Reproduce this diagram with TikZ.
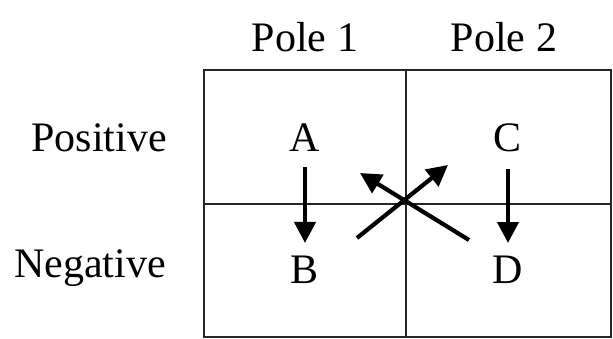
\documentclass[tikz,border=0pt]{standalone}
\usepackage{fontspec}
\setmainfont{Liberation Serif}
\usetikzlibrary{arrows.meta,positioning}
\tikzset{Cell/.style={draw=black!85,line width=1.6pt},
  Lbl/.style={inner sep=0pt,font=\fontsize{42}{48}\selectfont},
  Arr/.style={line width=4.2pt,-{Triangle[length=21pt,width=21pt]}}}

\begin{document}
\begin{tikzpicture}[x=1pt,y=-1pt]
            \useasboundingbox (0,0) rectangle (613,339);
            \draw[Cell] (204,70) rectangle (611,337);
            \draw[Cell] (406,70) -- (406,337);
            \draw[Cell] (204,204) -- (611,204);
            \node[Lbl] (p1) at (305,37) {Pole 1};
            \node[Lbl] (p2) at (504,37) {Pole 2};
            \node[Lbl] (pos) at (99,138) {Positive};
            \node[Lbl] (neg) at (90,268) {Negative};
            \node[Lbl] (A) at (305,138) {A};
            \node[Lbl] (B) at (305,270) {B};
            \node[Lbl] (C) at (508,138) {C};
            \node[Lbl] (D) at (508,270) {D};
            \coordinate (s1) at (357,238);
            \coordinate (e1) at (448,165);
            \coordinate (s2) at (469,240);
            \coordinate (e2) at (360,173);
            \draw[Arr,shorten <=15pt,shorten >=13pt] (A) -- (B);
            \draw[Arr,shorten <=17pt,shorten >=13pt] (C) -- (D);
            \draw[Arr] (s1) -- (e1);
            \draw[Arr] (s2) -- (e2);
        \end{tikzpicture}
\end{document}
